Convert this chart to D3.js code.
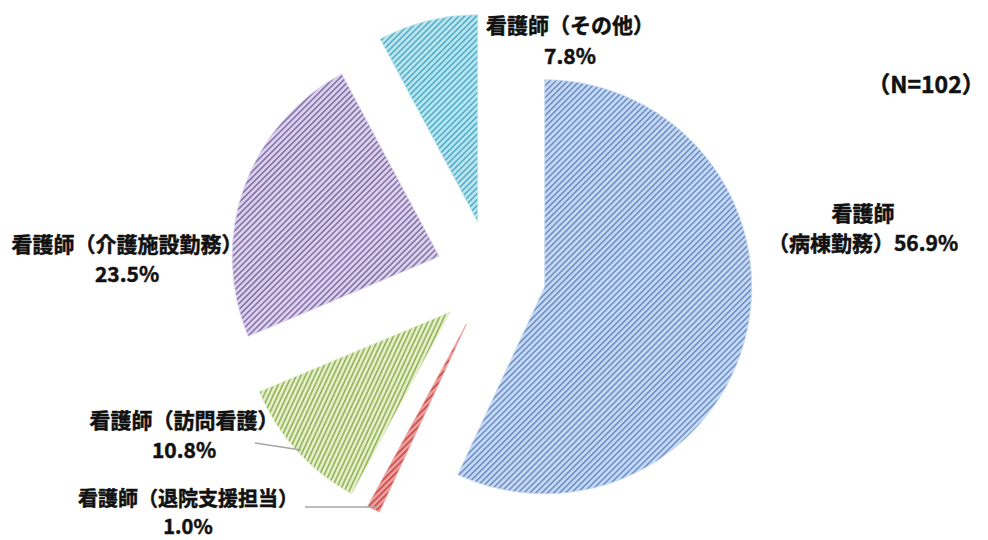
<!DOCTYPE html>
<html>
<head>
<meta charset="utf-8">
<script src="https://cdn.jsdelivr.net/npm/d3@7"></script>
<style>
  html, body { margin: 0; padding: 0; background: #fff; }
  svg text { font-family: "Noto Sans CJK JP", "Noto Sans", sans-serif; font-weight: bold; fill: #111; stroke: #111; stroke-width: 0.5px; }
</style>
</head>
<body>
<svg id="chart" width="988" height="540"></svg>
<script>
// Job categories of respondents (N=102)
const categories = [
  "看護師（病棟勤務）",
  "看護師（退院支援担当）",
  "看護師（訪問看護）",
  "看護師（介護施設勤務）",
  "看護師（その他）"
];
const shares = [56.9, 1.0, 10.8, 23.5, 7.8];
const shareLabels = ["56.9%", "1.0%", "10.8%", "23.5%", "7.8%"];
const sampleNote = "（N=102）";

// Fill styles: light background with darker diagonal hatching
const fillBg = ["#c8daf2", "#ee9f9d", "#e4efcc", "#dcd3ec", "#bde5ef"];
const fillLine = ["#7394cb", "#cc4f4c", "#9ab65e", "#8c76ae", "#55b3cb"];
const hatchAngle = [45, 45, 25, 45, 45];

const svg = d3.select("#chart");
const cx = 491, cy = 275, radius = 207, explode = 55;

const defs = svg.append("defs");
shares.forEach((_, i) => {
  const p = defs.append("pattern")
    .attr("id", "hatch" + i)
    .attr("patternUnits", "userSpaceOnUse")
    .attr("width", 4.2).attr("height", 4.2)
    .attr("patternTransform", `rotate(${hatchAngle[i]})`);
  p.append("rect").attr("width", 4.2).attr("height", 4.2).attr("fill", fillBg[i]);
  p.append("rect").attr("x", 0).attr("width", 1.7).attr("height", 4.2).attr("fill", fillLine[i]);
});

const pie = d3.pie().value(d => d).sort(null).startAngle(0).endAngle(2 * Math.PI);
const arc = d3.arc().innerRadius(0).outerRadius(radius);
const arcs = pie(shares);

const g = svg.append("g").attr("transform", `translate(${cx},${cy})`);

g.selectAll("path.slice")
  .data(arcs)
  .join("path")
  .attr("class", "slice")
  .attr("transform", d => {
    const m = (d.startAngle + d.endAngle) / 2;
    return `translate(${Math.sin(m) * explode},${-Math.cos(m) * explode})`;
  })
  .attr("d", arc)
  .attr("fill", (d, i) => `url(#hatch${i})`)
  .attr("stroke", (d, i) => fillBg[i])
  .attr("stroke-width", 0.8);

// Leader lines for the two small lower slices
const leaders = [
  [[255, 443], [301, 450]],
  [[305, 507], [377, 507]]
];
svg.selectAll("path.leader")
  .data(leaders)
  .join("path")
  .attr("class", "leader")
  .attr("d", d3.line())
  .attr("fill", "none")
  .attr("stroke", "#a6a6a6")
  .attr("stroke-width", 1.5);

// Slice labels
const labelSpecs = [
  { x: 863, fs: 21, ys: [212, 242], lines: ["看護師", "（病棟勤務）" + shareLabels[0]] },
  { x: 188, fs: 20, ys: [497, 525], lines: [categories[1], shareLabels[1]] },
  { x: 184, fs: 21, ys: [419, 449], lines: [categories[2], shareLabels[2]] },
  { x: 127, fs: 21, ys: [243, 273], lines: [categories[3], shareLabels[3]] },
  { x: 570, fs: 21, ys: [24, 55], lines: [categories[4], shareLabels[4]] }
];
labelSpecs.forEach(s => {
  s.lines.forEach((t, j) => {
    svg.append("text")
      .attr("x", s.x).attr("y", s.ys[j])
      .attr("text-anchor", "middle")
      .attr("dominant-baseline", "central")
      .attr("font-size", s.fs)
      .text(t);
  });
});

svg.append("text")
  .attr("x", 926).attr("y", 83)
  .attr("text-anchor", "middle")
  .attr("dominant-baseline", "central")
  .attr("font-size", 23)
  .text(sampleNote);
</script>
</body>
</html>
